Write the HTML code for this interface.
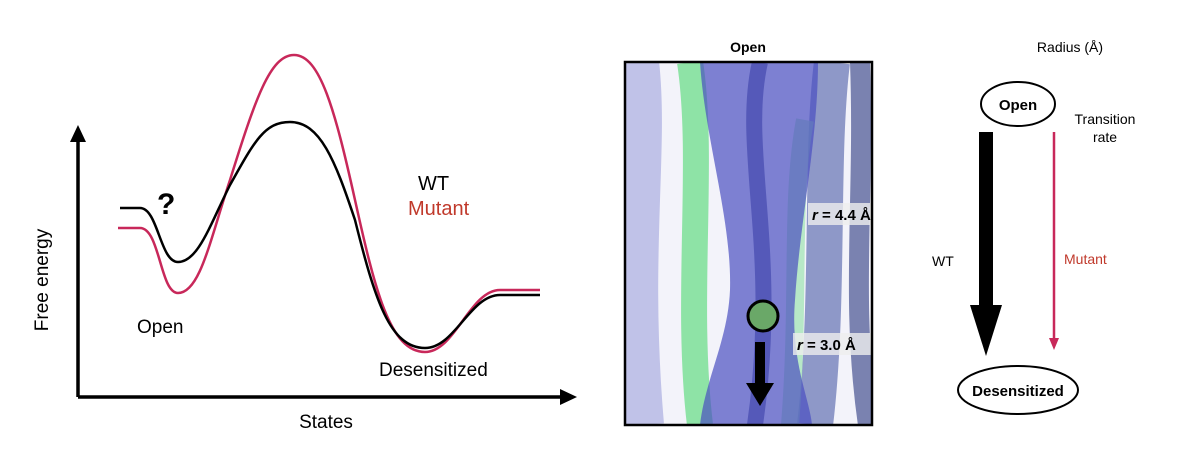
<!DOCTYPE html><html><head><style>body{margin:0;width:1180px;height:470px;background:#fff;overflow:hidden;font-family:"Liberation Sans",sans-serif}</style></head><body>
<svg width="1180" height="470" xmlns="http://www.w3.org/2000/svg" font-family="Liberation Sans, sans-serif">
<defs><clipPath id="bx"><rect x="625" y="62" width="247" height="363"/></clipPath></defs>
<line x1="78" y1="397" x2="78" y2="140" stroke="#000" stroke-width="3.5"/>
<path d="M70,142L78,125L86,142z"/>
<line x1="78" y1="397" x2="562" y2="397" stroke="#000" stroke-width="3.5"/>
<path d="M560,389L577,397L560,405z"/>
<text x="48" y="280" font-size="19" transform="rotate(-90 48 280)" text-anchor="middle">Free energy</text>
<text x="326" y="428" font-size="19" text-anchor="middle">States</text>
<path d="M118,228 L140,228 C160,228 160,293 178,293 C200,293 210,240 230,180 C255,100 270,55 294,55 C320,55 335,110 355,200 C375,290 390,352 425,352 C455,352 470,290 500,290 L540,290" fill="none" stroke="#c8285a" stroke-width="2.5"/>
<path d="M120,208 L140,208 C158,208 160,262 178,262 C198,262 210,225 230,185 C255,140 265,122 290,122 C320,122 335,160 355,220 C375,300 390,348 425,348 C455,348 470,295 500,295 L540,295" fill="none" stroke="#000" stroke-width="2.5"/>
<text x="157" y="214" font-size="30" font-weight="bold">?</text>
<text x="137" y="333" font-size="19">Open</text>
<text x="379" y="376" font-size="19">Desensitized</text>
<text x="418" y="190" font-size="20">WT</text>
<text x="408" y="215" font-size="20" fill="#c0392b">Mutant</text>
<text x="748" y="52" font-size="14" font-weight="bold" text-anchor="middle">Open</text>
<g clip-path="url(#bx)">
<rect x="625" y="62" width="247" height="363" fill="#f3f3fa"/>
<path d="M640,62 C650,150 630,250 645,425" stroke="#c0c2e8" stroke-width="38" fill="none"/>
<path d="M690,62 C705,160 685,300 700,425" stroke="#8ee3a6" stroke-width="26" fill="none"/>
<path d="M832,62 C820,160 830,300 815,425" stroke="#8e98c8" stroke-width="36" fill="none"/>
<path d="M860,62 C865,200 850,300 868,425" stroke="#7a82b0" stroke-width="20" fill="none"/>
<path d="M805,120 C790,200 800,300 790,425" stroke="#9ce3b0" stroke-width="18" fill="none" opacity=".7"/>
<path d="M700,62 L818,62 C818,140 800,220 795,300 C790,360 810,400 812,425 L700,425 C705,380 728,340 730,290 C732,220 705,140 700,62z" fill="#4a4fc0" opacity=".7"/>
<path d="M760,62 C740,150 780,250 755,425" stroke="#3a3fa8" stroke-width="16" fill="none" opacity=".6"/>
</g>
<circle cx="763" cy="316" r="15" fill="#6aa868" stroke="#000" stroke-width="3"/>
<line x1="760" y1="342" x2="760" y2="385" stroke="#000" stroke-width="10"/>
<path d="M746,383L774,383L760,406z"/>
<rect x="808" y="203" width="64" height="22" fill="#eee" opacity=".8"/>
<text x="812" y="220" font-size="15" font-weight="bold"><tspan font-style="italic">r</tspan> = 4.4 Å</text>
<rect x="793" y="333" width="79" height="22" fill="#eee" opacity=".8"/>
<text x="797" y="350" font-size="15" font-weight="bold"><tspan font-style="italic">r</tspan> = 3.0 Å</text>
<rect x="625" y="62" width="247" height="363" fill="none" stroke="#000" stroke-width="2.5"/>
<text x="1070" y="52" font-size="14" text-anchor="middle">Radius (Å)</text>
<ellipse cx="1018" cy="104" rx="37" ry="22" fill="#fff" stroke="#000" stroke-width="2"/>
<text x="1018" y="110" font-size="15" font-weight="bold" text-anchor="middle">Open</text>
<text x="1105" y="124" font-size="14" text-anchor="middle">Transition</text>
<text x="1105" y="142" font-size="14" text-anchor="middle">rate</text>
<line x1="986" y1="132" x2="986" y2="310" stroke="#000" stroke-width="14"/>
<path d="M970,305L1002,305L986,356z"/>
<text x="932" y="266" font-size="14">WT</text>
<line x1="1054" y1="132" x2="1054" y2="340" stroke="#c8285a" stroke-width="2.5"/>
<path d="M1049,338L1059,338L1054,350z" fill="#c8285a"/>
<text x="1064" y="264" font-size="14" fill="#c0392b">Mutant</text>
<ellipse cx="1018" cy="390" rx="60" ry="24" fill="#fff" stroke="#000" stroke-width="2"/>
<text x="1018" y="396" font-size="15" font-weight="bold" text-anchor="middle">Desensitized</text>
</svg></body></html>
